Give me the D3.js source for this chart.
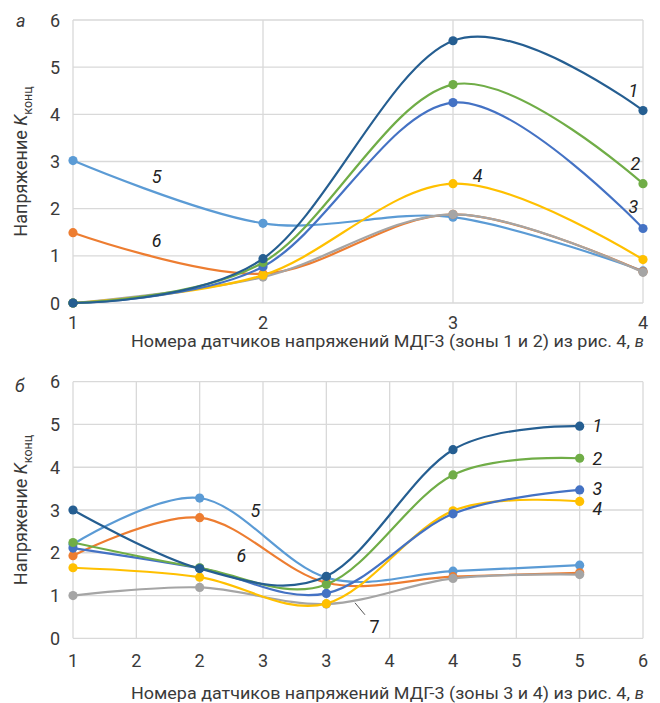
<!DOCTYPE html>
<html><head><meta charset="utf-8">
<script src="https://cdn.jsdelivr.net/npm/d3@7"></script>
<style>
html,body{margin:0;padding:0;background:#fff;}
svg{display:block;font-family:Roboto, "Noto Sans", sans-serif;}
</style></head>
<body><svg id="c" width="660" height="703"></svg>
<script>
// ---------- DATA ----------
const seriesNames = ["1","2","3","4","5","6","7"];
const seriesColors = ["#255e91","#70ad47","#4472c4","#ffc000","#5b9bd5","#ed7d31","#a5a5a5"];

// Panel a: sensors 1..4
const xA = [1,2,3,4];
const valsA = {
  "1": [0, 0.94, 5.56, 4.08],
  "2": [0, 0.86, 4.63, 2.53],
  "3": [0, 0.77, 4.25, 1.58],
  "4": [0, 0.59, 2.53, 0.92],
  "5": [3.02, 1.69, 1.82, 0.68],
  "6": [1.49, 0.62, 1.88, 0.66],
  "7": [0, 0.55, 1.88, 0.65]
};
const xTicksA = [1,2,3,4];
const xTickLabelsA = ["1","2","3","4"];
const yTicks = [0,1,2,3,4,5,6];

// Panel б: sensors 1..5, axis 1..5.5 step 0.5
const xB = [1,2,3,4,5];
const valsB = {
  "1": [3.0, 1.63, 1.45, 4.41, 4.96],
  "2": [2.24, 1.65, 1.26, 3.82, 4.21],
  "3": [2.11, 1.64, 1.05, 2.91, 3.47],
  "4": [1.65, 1.43, 0.81, 2.98, 3.2],
  "5": [2.2, 3.28, 1.42, 1.57, 1.71],
  "6": [1.93, 2.82, 1.3, 1.44, 1.53],
  "7": [1.0, 1.19, 0.8, 1.4, 1.49]
};
const xTicksB = [1,1.5,2,2.5,3,3.5,4,4.5,5,5.5];
const xTickLabelsB = ["1","2","2","3","3","4","4","5","5","6"];

const xTitleA = "Номера датчиков напряжений МДГ-3 (зоны 1 и 2) из рис. 4,";
const xTitleB = "Номера датчиков напряжений МДГ-3 (зоны 3 и 4) из рис. 4,";
const xTitleTail = "в";
const yTitleMain = "Напряжение ";
const yTitleK = "K";
const yTitleSub = "конц";
const panelLetters = ["а","б"];

// Series label anchors in data coordinates [label, x, y]
const labelsA = [["1",3.95,4.37],["2",3.96,2.82],["3",3.95,1.91],["4",3.13,2.57],["5",1.44,2.54],["6",1.44,1.19]];
const labelsB = [["1",5.14,4.82],["2",5.14,4.05],["3",5.14,3.35],["4",5.14,2.88],["5",2.44,2.84],["6",2.33,1.78],["7",3.38,0.12]];
const leaderB = [[3.226,0.83],[3.305,0.55]];

// draw order (later on top)
const drawOrder = ["5","6","7","4","3","2","1"];

// ---------- DRAW ----------
const svg = d3.select("#c");
const textCol = "#3a3a3a";
const gridCol = "#d9d9d9";

function panel(cfg){
  const g = svg.append("g");
  const x = d3.scaleLinear().domain(cfg.xDomain).range([73,643]);
  const y = d3.scaleLinear().domain([0,6]).range([cfg.yBottom, cfg.yTop]);

  // grid
  g.append("g").selectAll("line").data(yTicks).join("line")
    .attr("x1",73).attr("x2",643).attr("y1",d=>y(d)).attr("y2",d=>y(d))
    .attr("stroke",gridCol).attr("stroke-width",1.3);
  g.append("g").selectAll("line").data(cfg.xTicks).join("line")
    .attr("y1",y(0)).attr("y2",y(6)).attr("x1",d=>x(d)).attr("x2",d=>x(d))
    .attr("stroke",gridCol).attr("stroke-width",1.3);

  // y ticks
  g.append("g").selectAll("text").data(yTicks).join("text")
    .attr("x",60).attr("y",d=>y(d)+6.5).attr("text-anchor","end")
    .attr("font-size",18).attr("fill",textCol).text(d=>d);
  // x ticks
  g.append("g").selectAll("text").data(cfg.xTicks).join("text")
    .attr("x",d=>x(d)).attr("y",cfg.xTickY).attr("text-anchor","middle")
    .attr("font-size",18).attr("fill",textCol).text((d,i)=>cfg.xTickLabels[i]);

  // x title
  g.append("text").attr("x",131).attr("y",cfg.xTitleY)
    .attr("font-size",16.5).attr("fill",textCol)
    .attr("textLength",499).attr("lengthAdjust","spacingAndGlyphs")
    .text(cfg.xTitle);
  g.append("text").attr("x",644).attr("y",cfg.xTitleY).attr("text-anchor","end")
    .attr("font-size",16.5).attr("font-style","italic").attr("fill",textCol)
    .text(xTitleTail);

  // y title
  const cy = (cfg.yTop+cfg.yBottom)/2;
  const yt = g.append("text").attr("transform",`translate(27,${cy}) rotate(-90)`)
    .attr("text-anchor","middle").attr("font-size",18).attr("fill",textCol);
  yt.append("tspan").text(yTitleMain);
  yt.append("tspan").attr("font-style","italic").text(yTitleK);
  yt.append("tspan").attr("font-size",12.5).attr("dy",5).text(yTitleSub);

  // panel letter
  g.append("text").attr("x",cfg.letterX).attr("y",cfg.letterY)
    .attr("font-size",18).attr("font-style","italic").attr("fill",textCol).text(cfg.letter);

  // series
  const line = d3.line().x((d,i)=>x(cfg.xs[i])).y(d=>y(d)).curve(d3.curveCardinal.tension(0));
  drawOrder.forEach(name=>{
    const col = seriesColors[seriesNames.indexOf(name)];
    const vals = cfg.vals[name];
    g.append("path").attr("d",line(vals)).attr("fill","none")
      .attr("stroke",col).attr("stroke-width",2.2);
    g.append("g").selectAll("circle").data(vals).join("circle")
      .attr("cx",(d,i)=>x(cfg.xs[i])).attr("cy",d=>y(d)).attr("r",4.6).attr("fill",col);
  });

  // series labels
  g.append("g").selectAll("text").data(cfg.labels).join("text")
    .attr("x",d=>x(d[1])).attr("y",d=>y(d[2])).attr("text-anchor","middle")
    .attr("font-size",18).attr("font-style",d=>d[0]==="7"?"normal":"italic")
    .attr("fill","#222").text(d=>d[0]);
  if(cfg.leader){
    g.append("line").attr("x1",x(cfg.leader[0][0])).attr("y1",y(cfg.leader[0][1]))
      .attr("x2",x(cfg.leader[1][0])).attr("y2",y(cfg.leader[1][1]))
      .attr("stroke","#555").attr("stroke-width",1);
  }
}

panel({xDomain:[1,4], xTicks:xTicksA, xTickLabels:xTickLabelsA, xs:xA, vals:valsA,
  yTop:20, yBottom:303, xTickY:329, xTitleY:347, xTitle:xTitleA,
  letter:panelLetters[0], letterX:16, letterY:27, labels:labelsA});
panel({xDomain:[1,5.5], xTicks:xTicksB, xTickLabels:xTickLabelsB, xs:xB, vals:valsB,
  yTop:381.7, yBottom:638.3, xTickY:667, xTitleY:699, xTitle:xTitleB,
  letter:panelLetters[1], letterX:15, letterY:392, labels:labelsB, leader:leaderB});
</script></body></html>
